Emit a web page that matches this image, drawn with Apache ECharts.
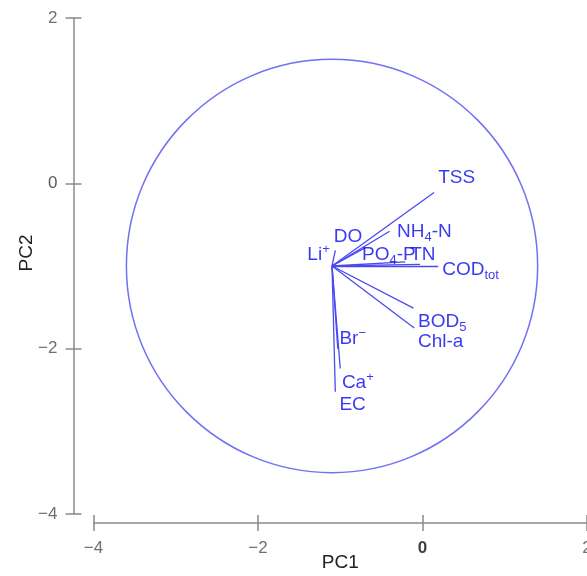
<!DOCTYPE html>
<html>
<head>
<meta charset="utf-8">
<script src="https://cdn.jsdelivr.net/npm/echarts@6/dist/echarts.min.js"></script>
<style>
html,body{margin:0;padding:0;background:#fff;overflow:hidden;}
#chart{width:587px;height:576px;}
</style>
</head>
<body>
<div id="chart"></div>
<script>
// ---- data ----
const vectorOrigin = [-1.1, -1.0];
const vectorNames = ['TSS','NH4-N','DO','Li+','PO4-P','TN','CODtot','BOD5','Chl-a','Br-','Ca+','EC'];
const vectorX = [0.14, -0.40, -0.70, -1.06, -0.21, -0.03, 0.19, -0.11, -0.10, -1.03, -1.00, -1.06];
const vectorY = [-0.11, -0.58, -0.78, -0.81, -0.95, -0.98, -1.00, -1.51, -1.75, -2.00, -2.24, -2.52];

const labelTexts = ['TSS','NH{s|4}-N','DO','Li{p|+}','PO{s|4}-P','TN','COD{s|tot}','BOD{s|5}','Chl-a','Br{p|−}','Ca{p|+}','EC'];
const labelX = [0.19, -0.31, -1.08, -1.40, -0.735, -0.15, 0.24, -0.055, -0.055, -1.01, -0.98, -1.01];
const labelY = [0.065, -0.59, -0.65, -0.87, -0.87, -0.87, -1.05, -1.68, -1.92, -1.88, -2.41, -2.68];

const circleCenter = [-1.1, -1.0];
const circleRadius = [2.5];

const xTicks = [-4, -2, 0, 2];
const yTicks = [-4, -2, 0, 2];

// ---- styles ----
const FONT = 'Liberation Sans, Arial, sans-serif';
const AXIS_GRAY = '#8a8a8a';
const BLUE_TEXT = '#0808ec';
const BLUE_LINE = '#4a4af0';
const BLUE_CIRCLE = '#7070f2';

const chart = echarts.init(document.getElementById('chart'));

function fmt(v){
  if (v === 0) return '{z|0}';
  return String(v).replace('-', '\u2212');
}

const xMin = xTicks[0], xMax = xTicks[xTicks.length - 1];
const yMin = yTicks[0], yMax = yTicks[yTicks.length - 1];

const option = {
  animation: false,
  grid: { left: 93.5, right: 0, top: 18, bottom: 62, containLabel: false, outerBoundsMode: 'none' },
  xAxis: [
    {
      type: 'value', min: xMin, max: xMax, interval: 2, position: 'bottom', offset: 9,
      axisLine: { show: true, onZero: false, lineStyle: { color: AXIS_GRAY, width: 1.5 } },
      axisTick: { show: true, length: 8, lineStyle: { color: AXIS_GRAY, width: 1.5 } },
      axisLabel: {
        margin: 17, showMaxLabel: true, showMinLabel: true, hideOverlap: false,
        color: '#707070', fontSize: 17, fontFamily: FONT, formatter: fmt,
        rich: { z: { color: '#404040', fontSize: 17, fontWeight: 'bold', fontFamily: FONT } }
      },
      splitLine: { show: false },
      name: 'PC1', nameLocation: 'middle', nameGap: 30, nameMoveOverlap: false,
      nameTextStyle: { color: '#222', fontSize: 19, fontFamily: FONT }
    },
    {
      type: 'value', min: xMin, max: xMax, interval: 2, position: 'bottom', offset: 9,
      axisLine: { show: false, onZero: false },
      axisTick: { show: true, inside: true, length: 8, lineStyle: { color: AXIS_GRAY, width: 1.5 } },
      axisLabel: { show: false }, splitLine: { show: false }
    }
  ],
  yAxis: [
    {
      type: 'value', min: yMin, max: yMax, interval: 2, position: 'left', offset: 20,
      axisLine: { show: true, onZero: false, lineStyle: { color: AXIS_GRAY, width: 1.5 } },
      axisTick: { show: true, length: 8, lineStyle: { color: AXIS_GRAY, width: 1.5 } },
      axisLabel: {
        margin: 16, showMaxLabel: true, showMinLabel: true, hideOverlap: false,
        color: '#707070', fontSize: 17, fontFamily: FONT, formatter: fmt,
        rich: { z: { color: '#5a5a5a', fontSize: 17, fontFamily: FONT } }
      },
      splitLine: { show: false },
      name: 'PC2', nameLocation: 'middle', nameGap: 37, nameMoveOverlap: false,
      nameTextStyle: { color: '#222', fontSize: 19, fontFamily: FONT, padding: [0, 0, 0, 26] }
    },
    {
      type: 'value', min: yMin, max: yMax, interval: 2, position: 'left', offset: 20,
      axisLine: { show: false, onZero: false },
      axisTick: { show: true, inside: true, length: 8, lineStyle: { color: AXIS_GRAY, width: 1.5 } },
      axisLabel: { show: false }, splitLine: { show: false }
    }
  ],
  series: [
    {
      type: 'custom',
      xAxisIndex: 0, yAxisIndex: 0,
      data: [[circleCenter[0], circleCenter[1], circleRadius[0]]],
      clip: false,
      renderItem: function (params, api) {
        const c = api.coord([api.value(0), api.value(1)]);
        const s = api.size([api.value(2), api.value(2)]);
        return {
          type: 'ellipse',
          shape: { cx: c[0], cy: c[1], rx: s[0], ry: s[1] },
          style: { fill: 'none', stroke: BLUE_CIRCLE, lineWidth: 1.5 }
        };
      }
    },
    {
      type: 'lines',
      coordinateSystem: 'cartesian2d',
      xAxisIndex: 0, yAxisIndex: 0,
      lineStyle: { color: BLUE_LINE, width: 1.3, opacity: 1 },
      data: vectorNames.map((n, i) => ({ name: n, coords: [vectorOrigin, [vectorX[i], vectorY[i]]] }))
    },
    {
      type: 'scatter',
      xAxisIndex: 0, yAxisIndex: 0,
      symbolSize: 0,
      data: labelX.map((x, i) => [x, labelY[i]]),
      label: {
        show: true, position: 'right', distance: 0,
        formatter: p => labelTexts[p.dataIndex],
        color: BLUE_TEXT, fontSize: 19, fontFamily: FONT, lineHeight: 24,
        rich: {
          s: { fontSize: 13, lineHeight: 12, verticalAlign: 'bottom', color: BLUE_TEXT, fontFamily: FONT },
          p: { fontSize: 13, lineHeight: 12, verticalAlign: 'top', color: BLUE_TEXT, fontFamily: FONT }
        }
      }
    }
  ]
};
chart.setOption(option);
</script>
</body>
</html>
